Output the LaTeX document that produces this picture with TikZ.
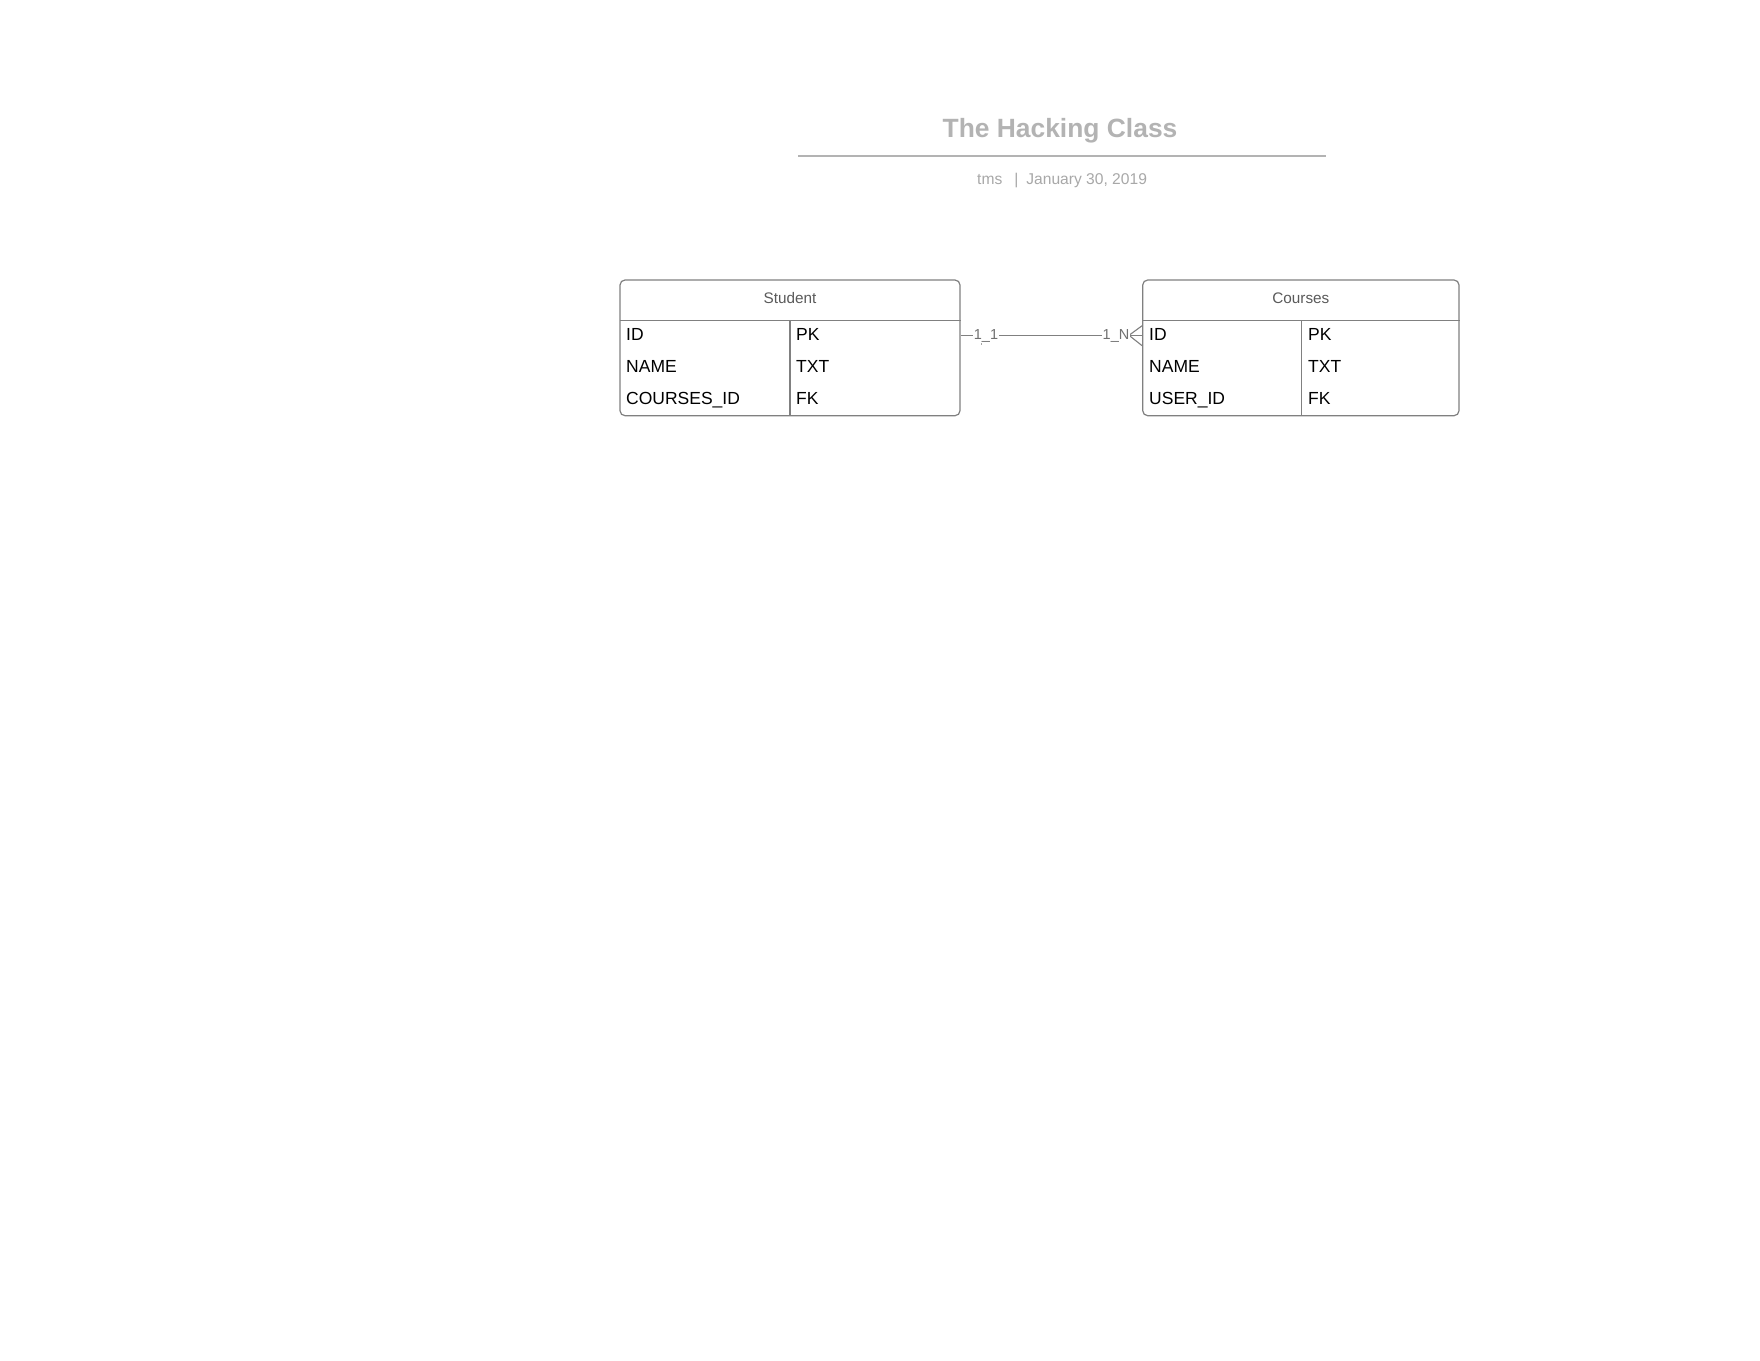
\documentclass[tikz,border=0pt]{standalone}
\usepackage{fontspec}
\setmainfont{Liberation Sans}
\definecolor{titlegray}{HTML}{B3B3B3}
\definecolor{subgray}{HTML}{A8A8A8}
\definecolor{boxgray}{HTML}{808080}
\definecolor{headgray}{HTML}{5A5A5A}
\definecolor{lblgray}{HTML}{707070}
\tikzset{
  tablebox/.style={draw=boxgray, line width=1.2pt, rounded corners=5pt, inner sep=0pt},
  tline/.style={draw=boxgray, line width=1.1pt},
  headtxt/.style={anchor=base, inner sep=0pt, text=headgray, font=\fontsize{15.3}{18}\selectfont},
  rowtxt/.style={anchor=base west, inner sep=0pt, text=black, font=\fontsize{17.5}{20}\selectfont},
  cardlbl/.style={anchor=base, fill=white, inner sep=1pt, text=lblgray, font=\fontsize{14.5}{17}\selectfont},
  conn/.style={draw=boxgray, line width=1.1pt},
  barmark/.style={draw=boxgray!70, line width=0.8pt},
}
\begin{document}
\begin{tikzpicture}[x=1pt,y=-1pt]
\useasboundingbox[fill=white] (0,0) rectangle (1760,1360);
% title
\node[anchor=base, inner sep=0pt, text=titlegray, font=\bfseries\fontsize{26.4}{30}\selectfont] (title) at (1060,137.3) {The Hacking Class};
\coordinate (tl) at (798,155.7);
\coordinate (tr) at (1326,155.7);
\draw[draw=titlegray, line width=2pt] (tl) -- (tr);
\node[anchor=base west, inner sep=0pt, text=subgray, font=\fontsize{15.6}{18}\selectfont] (sub) at (977,184.3) {tms\hspace{12pt}|\hspace{8pt}January 30, 2019};
% Student table
\node[tablebox, minimum width=340pt, minimum height=135.7pt] (student) at (790,347.85) {};
\coordinate (sh) at (620,320.7);
\coordinate (sd) at (790,320.7);
\draw[tline] (sh) -- (student.east |- sh);
\draw[tline] (sd) -- (sd |- student.south);
\node[headtxt] (sname) at (790,303) {Student};
\node[rowtxt] (s1) at (626,340.3) {ID};
\node[rowtxt] (s2) at (626,372.3) {NAME};
\node[rowtxt] (s3) at (626,404) {COURSES\_ID};
\node[rowtxt] (s1t) at (796,340.3) {PK};
\node[rowtxt] (s2t) at (796,372.3) {TXT};
\node[rowtxt] (s3t) at (796,404) {FK};
% Courses table
\node[tablebox, minimum width=316.3pt, minimum height=135.7pt] (courses) at (1300.85,347.85) {};
\coordinate (ch) at (1142.7,320.7);
\coordinate (cd) at (1301.6,320.7);
\draw[tline] (ch) -- (courses.east |- ch);
\draw[tline] (cd) -- (cd |- courses.south);
\node[headtxt] (cname) at (1300.85,303) {Courses};
\node[rowtxt] (c1) at (1149,340.3) {ID};
\node[rowtxt] (c2) at (1149,372.3) {NAME};
\node[rowtxt] (c3) at (1149,404) {USER\_ID};
\node[rowtxt] (c1t) at (1308,340.3) {PK};
\node[rowtxt] (c2t) at (1308,372.3) {TXT};
\node[rowtxt] (c3t) at (1308,404) {FK};
% connector
\coordinate (ls) at (959.5,335.3);
\coordinate (lc) at (1142.7,335.3);
\coordinate (cf) at (1129,335.3);
\coordinate (bar1) at (981,328.5);
\coordinate (bar2) at (981,344.5);
\draw[conn] (student.east |- ls) -- (courses.west |- lc);
\draw[barmark] (bar1) -- (bar2);
\draw[conn] (cf) -- (courses.west |- 0,325.7);
\draw[conn] (cf) -- (courses.west |- 0,345.7);
\node[cardlbl] (l11) at (986,339) {1\_1};
\node[cardlbl] (l1n) at (1116,339) {1\_N};
\end{tikzpicture}
\end{document}
